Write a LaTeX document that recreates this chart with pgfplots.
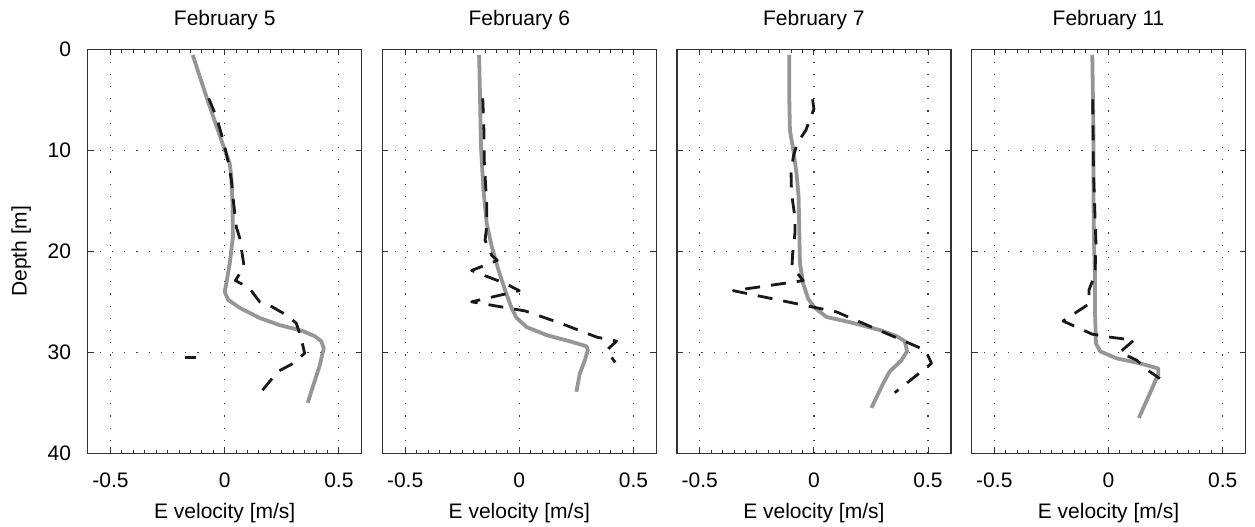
\documentclass[border=0pt]{standalone}
\usepackage{fontspec}
\setmainfont{Liberation Sans}
\usepackage{pgfplots}
\pgfplotsset{compat=1.18}
\definecolor{curvegray}{RGB}{150,150,150}
\definecolor{framegray}{RGB}{50,50,50}
\newcommand{\chartfont}{\fontsize{10.5}{12.6}\selectfont}
\pgfplotsset{
  panel/.style={
    scale only axis, width=137pt, height=202pt,
    anchor=south west,
    xmin=-0.6, xmax=0.6, ymin=0, ymax=40, y dir=reverse,
    xtick={-0.5,0,0.5}, xticklabels={-0.5,0,0.5},
    ytick={0,10,20,30,40},
    /pgf/number format/assume math mode=true,
    minor x tick num=9,
    tick align=inside, tick pos=both,
    major tick length=3pt, minor tick length=1.6pt,
    every tick/.style={framegray, line width=0.45pt},
    axis line style={framegray, line width=0.6pt},
    grid=major,
    major grid style={black!75, line width=0.6pt, dash pattern=on 0.6pt off 5.5pt},
    tick label style={font=\chartfont},
    xticklabel style={anchor=base, yshift=-17pt},
    yticklabel style={anchor=east, xshift=-4.8pt},
    label style={font=\chartfont},
    xlabel={E velocity [m/s]},
    xlabel style={at={(axis description cs:0.5,0)}, anchor=base, yshift=-32.5pt},
    title style={font=\chartfont, at={(axis description cs:0.5,1)}, anchor=base, yshift=6pt},
  },
  greyline/.style={curvegray, line width=1.9pt, line join=round, line cap=butt},
  dashline/.style={black!90, line width=1.4pt, dash pattern=on 7.5pt off 5.5pt, line join=round},
}
\begin{document}
\begin{tikzpicture}
\useasboundingbox (0,0) rectangle (627.5pt,263pt);
% ---------------- February 5
\begin{axis}[panel, at={(43.85pt,36.35pt)}, title={February 5},
  ylabel={Depth [m]},
  ylabel style={at={(axis description cs:-0.2226,0.5)}, anchor=base}]
\addplot[greyline] coordinates {
(-0.14,0.56) (-0.08,4.7) (-0.007,9.5) (0.022,11.3) (0.029,12.6) (0.034,15.2)
(0.036,18.6) (0.022,21.2) (0.007,23.2) (0.0,24.0) (0.015,24.8) (0.066,25.6)
(0.153,26.6) (0.24,27.3) (0.343,27.9) (0.394,28.4) (0.423,28.9) (0.434,29.6)
(0.415,31.4) (0.386,33.4) (0.364,35.0)};
\addplot[dashline] coordinates {
(-0.07,4.85) (-0.036,6.7) (-0.007,9.0) (0.015,11.1) (0.029,12.9) (0.039,15.2)
(0.051,17.6) (0.066,18.7) (0.085,21.5) (0.047,22.9) (0.106,23.6) (0.153,25.0)
(0.2,25.4) (0.262,26.2) (0.313,27.1) (0.335,28.6) (0.35,30.1) (0.3,31.1)
(0.233,31.9) (0.16,33.9)};
\addplot[dashline] coordinates {(-0.175,30.5) (-0.124,30.5)};
\end{axis}
% ---------------- February 6
\begin{axis}[panel, at={(191.15pt,36.35pt)}, title={February 6}, yticklabels={}]
\addplot[greyline] coordinates {
(-0.176,0.56) (-0.172,4.7) (-0.168,9.6) (-0.157,13.9) (-0.143,17.2) (-0.121,19.5)
(-0.092,21.8) (-0.063,23.8) (-0.034,25.6) (-0.012,26.6) (0.032,27.5) (0.12,28.3)
(0.22,28.9) (0.294,29.4) (0.30,29.8) (0.287,30.8) (0.265,32.1) (0.25,33.9)};
\addplot[dashline] coordinates {
(-0.16,4.85) (-0.155,8.0) (-0.153,11.3) (-0.143,15.2) (-0.143,17.6) (-0.15,18.9)
(-0.121,20.4) (-0.096,20.9) (-0.209,21.9) (-0.06,23.2) (0.0,23.9) (-0.209,25.0)
(0.025,25.9) (0.178,27.1) (0.34,28.5) (0.426,28.9) (0.382,29.8) (0.42,31.0)};
\end{axis}
% ---------------- February 7
\begin{axis}[panel, at={(338.45pt,36.35pt)}, title={February 7}, yticklabels={}]
\addplot[greyline] coordinates {
(-0.108,0.56) (-0.108,4.7) (-0.105,8.0) (-0.09,10.0) (-0.076,12.3) (-0.067,14.6)
(-0.064,17.9) (-0.061,21.2) (-0.047,23.2) (-0.025,24.7) (0.004,25.6) (0.055,26.5)
(0.172,27.1) (0.289,27.8) (0.362,28.4) (0.398,28.9) (0.408,29.9) (0.383,30.8)
(0.332,31.9) (0.303,33.1) (0.252,35.5)};
\addplot[dashline] coordinates {
(-0.006,4.95) (0.0,5.9) (-0.035,8.0) (-0.073,9.3) (-0.09,10.6) (-0.1,12.3)
(-0.098,14.3) (-0.083,16.6) (-0.083,18.2) (-0.093,20.2) (-0.096,21.5) (-0.047,22.9)
(-0.353,23.9) (0.099,26.0) (0.489,29.8) (0.515,31.1) (0.354,34.0)};
\end{axis}
% ---------------- February 11
\begin{axis}[panel, at={(485.75pt,36.35pt)}, title={February 11}, yticklabels={}]
\addplot[greyline] coordinates {
(-0.071,0.56) (-0.066,8.0) (-0.066,14.6) (-0.063,19.5) (-0.059,22.5) (-0.059,26.1)
(-0.055,29.1) (-0.037,29.9) (0.036,30.6) (0.138,31.1) (0.218,31.6) (0.218,32.2)
(0.133,36.5)};
\addplot[dashline] coordinates {
(-0.069,4.95) (-0.066,11.9) (-0.059,16.6) (-0.055,19.2) (-0.059,22.3) (-0.085,23.8)
(-0.085,25.2) (-0.199,26.9) (-0.072,28.2) (0.007,28.5) (0.111,28.8) (0.05,30.0)
(0.125,30.8) (0.167,31.7) (0.225,32.6)};
\end{axis}
\end{tikzpicture}
\end{document}
